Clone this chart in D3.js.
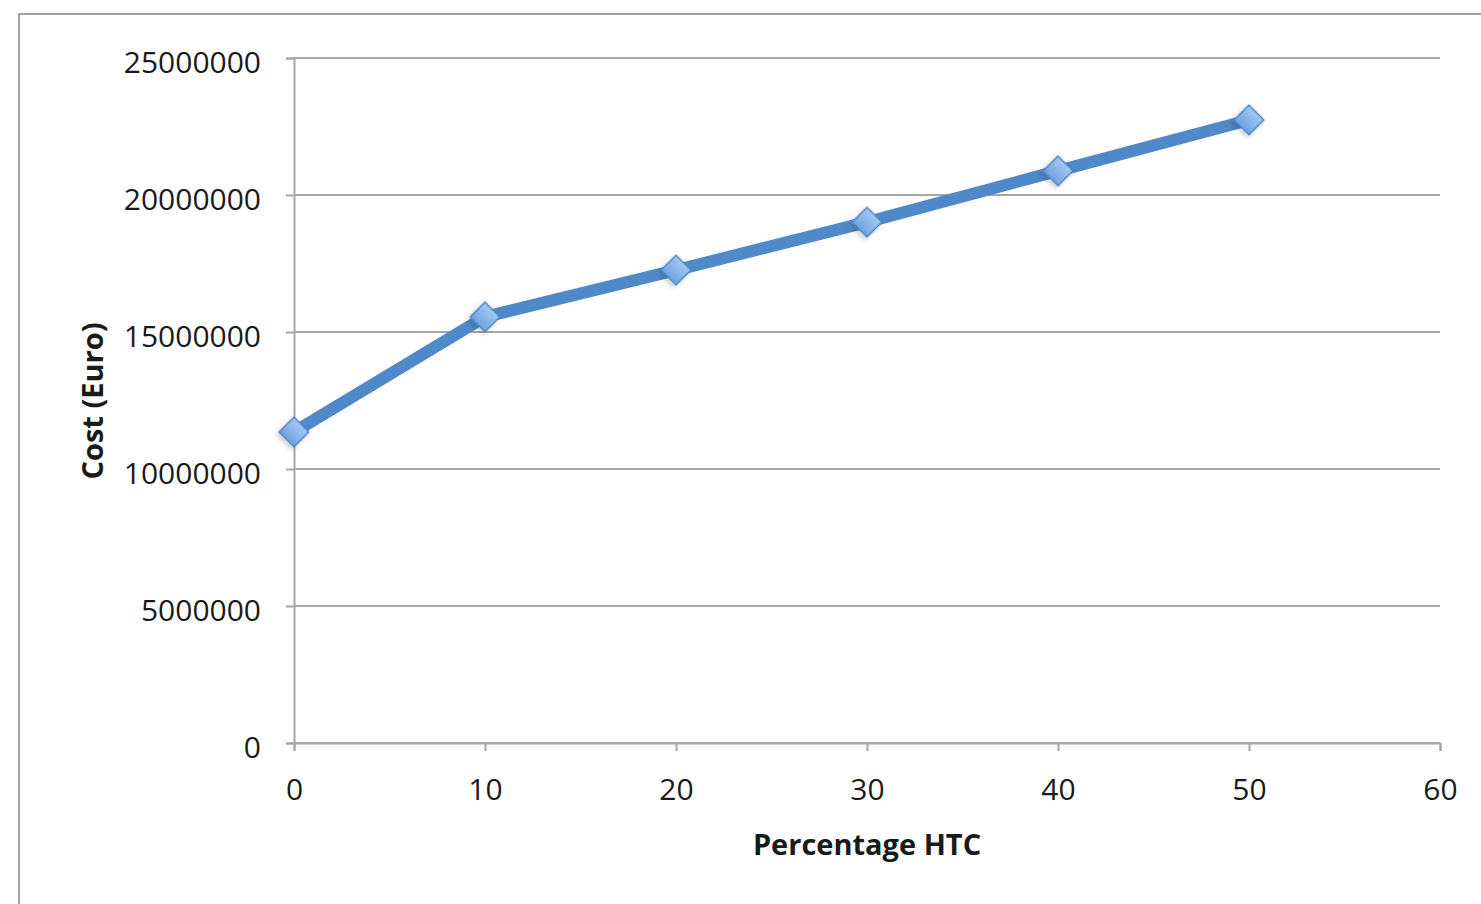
<!DOCTYPE html>
<html><head><meta charset="utf-8">
<script src="https://cdn.jsdelivr.net/npm/d3@7"></script>
<style>
html,body{margin:0;padding:0;background:#fff;}
svg{display:block;}
text{font-family:"Open Sans","Noto Sans",sans-serif;fill:#1a1a1a;}
</style></head>
<body>
<svg id="chart" width="1481" height="904"></svg>
<script>
const percentages = [0, 10, 20, 30, 40, 50];
const costs = [11350000, 15550000, 17260000, 19010000, 20880000, 22740000];
const xTicks = [0, 10, 20, 30, 40, 50, 60];
const yTicks = [0, 5000000, 10000000, 15000000, 20000000, 25000000];
const xTitle = "Percentage HTC";
const yTitle = "Cost (Euro)";

const svg = d3.select("#chart");
const defs = svg.append("defs");
const grad = defs.append("linearGradient").attr("id","mk").attr("x1",0).attr("y1",0).attr("x2",0).attr("y2",1);
grad.append("stop").attr("offset","0%").attr("stop-color","#a3c8f4");
grad.append("stop").attr("offset","100%").attr("stop-color","#6fa3e2");
const filt = defs.append("filter").attr("id","sh").attr("x","-50%").attr("y","-50%").attr("width","200%").attr("height","200%");
filt.append("feDropShadow").attr("dx",0).attr("dy",3).attr("stdDeviation",2.5).attr("flood-color","#000").attr("flood-opacity",0.2);

// outer border
svg.append("rect").attr("x",19).attr("y",14).attr("width",1500).attr("height",960)
  .attr("fill","none").attr("stroke","#a3a3a3").attr("stroke-width",2);

const x = d3.scaleLinear().domain([0,60]).range([294,1440]);
const y = d3.scaleLinear().domain([0,25000000]).range([743,58]);

// gridlines
svg.append("g").selectAll("line").data(yTicks).join("line")
  .attr("x1",x(0)).attr("x2",x(60)).attr("y1",d=>y(d)).attr("y2",d=>y(d))
  .attr("stroke","#a6a6a6").attr("stroke-width",2);

// y axis
const yAxis = svg.append("g").attr("transform",`translate(${x(0)},0)`)
  .call(d3.axisLeft(y).tickValues(yTicks).tickFormat(d3.format("d")).tickSize(8).tickPadding(25));
yAxis.select(".domain").attr("stroke","#a6a6a6").attr("stroke-width",2);
yAxis.selectAll(".tick line").attr("stroke","#a6a6a6").attr("stroke-width",2);
yAxis.selectAll("text").style("font-size","30px").attr("fill","#1a1a1a").attr("dy","0.48em");

// x axis
const xAxis = svg.append("g").attr("transform",`translate(0,${y(0)})`)
  .call(d3.axisBottom(x).tickValues(xTicks).tickFormat(d3.format("d")).tickSize(8).tickPadding(28));
xAxis.select(".domain").attr("stroke","#a6a6a6").attr("stroke-width",2);
xAxis.selectAll(".tick line").attr("stroke","#a6a6a6").attr("stroke-width",2);
xAxis.selectAll("text").style("font-size","30px").attr("fill","#1a1a1a");

// titles
svg.append("text").attr("x",867).attr("y",855).attr("text-anchor","middle")
  .style("font-size","29px").style("font-weight","bold").text(xTitle);
svg.append("text").attr("transform","translate(103,401) rotate(-90)").attr("text-anchor","middle")
  .style("font-size","29px").style("font-weight","bold").text(yTitle);

// line
const data = percentages.map((p,i)=>({p, c: costs[i]}));
svg.append("path").datum(data)
  .attr("d", d3.line().x(d=>x(d.p)).y(d=>y(d.c)))
  .attr("fill","none").attr("stroke","#5089c9").attr("stroke-width",12).attr("stroke-linejoin","round");

// markers
const sym = d3.symbol().type(d3.symbolSquare).size(440);
svg.append("g").selectAll("path").data(data).join("path")
  .attr("d", sym)
  .attr("transform", d=>`translate(${x(d.p)},${y(d.c)}) rotate(45)`)
  .attr("fill","url(#mk)").attr("stroke","#4f86c6").attr("stroke-width",1.5)
  .attr("filter","url(#sh)");
</script>
</body></html>
